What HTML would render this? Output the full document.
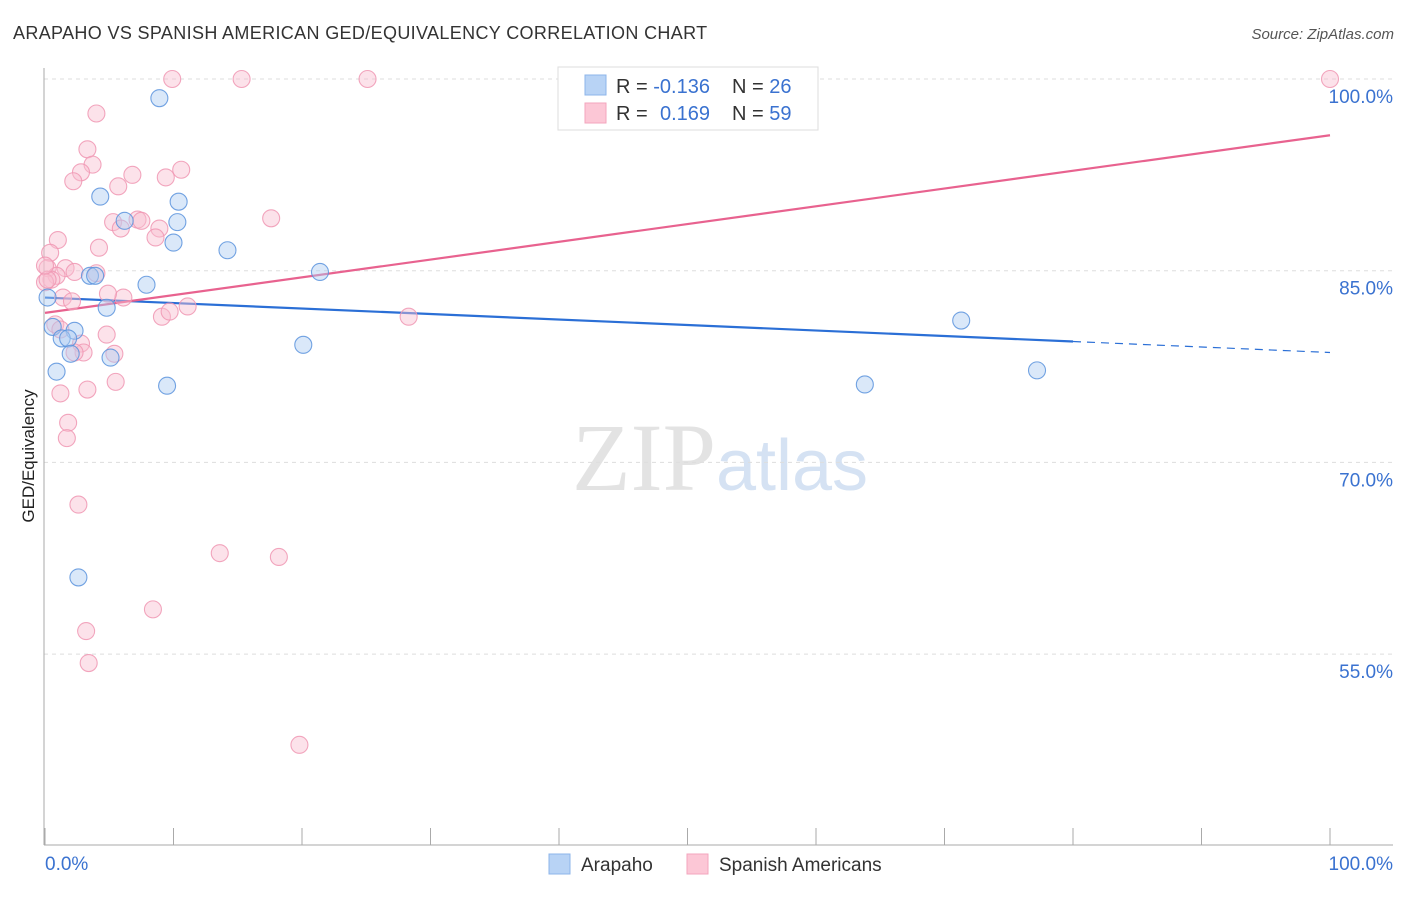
<!DOCTYPE html>
<html><head><meta charset="utf-8">
<style>
body{margin:0;background:#fff;font-family:"Liberation Sans",sans-serif;}
svg text{font-family:"Liberation Sans",sans-serif;}
</style></head>
<body>
<svg id="chart" width="1406" height="892" xmlns="http://www.w3.org/2000/svg">
<text x="13" y="39" font-size="18" fill="#333" letter-spacing="0.35">ARAPAHO VS SPANISH AMERICAN GED/EQUIVALENCY CORRELATION CHART</text>
<text x="1394" y="39" font-size="15" fill="#555" text-anchor="end" font-style="italic">Source: ZipAtlas.com</text>
<text x="720" y="490" font-size="96" text-anchor="middle"><tspan fill="#e3e3e3" font-family="Liberation Serif">ZIP</tspan><tspan fill="#d5e2f3" font-size="72">atlas</tspan></text>
<g id="grid"></g>
<g id="axes"></g>
<g id="trend"></g>
<g id="pts"></g>
<text transform="translate(34,456) rotate(-90)" font-size="17" fill="#222" text-anchor="middle">GED/Equivalency</text>
<g>
<rect x="558" y="67" width="260" height="63" fill="#fff" stroke="#ddd"/>
<rect x="585" y="75" width="21" height="20" fill="#b8d3f5" stroke="#8db4ea"/>
<rect x="585" y="103" width="21" height="20" fill="#fcc7d6" stroke="#f3a6bd"/>
<text x="616" y="93" font-size="20" fill="#333">R = <tspan fill="#3a72d0">-0.136</tspan></text>
<text x="732" y="93" font-size="20" fill="#333">N = <tspan fill="#3a72d0">26</tspan></text>
<text x="616" y="120" font-size="20" fill="#333">R = </text>
<text x="660" y="120" font-size="20" fill="#3a72d0">0.169</text>
<text x="732" y="120" font-size="20" fill="#333">N = <tspan fill="#3a72d0">59</tspan></text>
</g>
<g>
<rect x="549" y="854" width="21" height="20" fill="#b8d3f5" stroke="#8db4ea"/>
<text x="581" y="871" font-size="19" fill="#333">Arapaho</text>
<rect x="687" y="854" width="21" height="20" fill="#fcc7d6" stroke="#f3a6bd"/>
<text x="719" y="871" font-size="19" fill="#333">Spanish Americans</text>
</g>
</svg>
<script>
const yTicks=[100,85,70,55];
const yTickLabels=["100.0%","85.0%","70.0%","55.0%"];
const xTickCount=10;
const blueX=[8.9,4.3,6.2,10.4,10.3,10.0,14.2,3.5,3.9,7.9,4.8,0.2,21.4,0.6,2.3,1.3,1.8,2.0,5.1,0.9,9.5,20.1,2.6,71.3,63.8,77.2];
const blueY=[98.5,90.8,88.9,90.4,88.8,87.2,86.6,84.6,84.6,83.9,82.1,82.9,84.9,80.6,80.3,79.7,79.7,78.5,78.2,77.1,76.0,79.2,61.0,81.1,76.1,77.2];
const pinkX=[9.9,15.3,25.1,100,4.0,3.3,3.7,2.8,10.6,2.2,6.8,9.4,5.7,5.3,5.9,7.2,7.5,8.9,8.6,17.6,1.0,4.2,0.4,0.2,1.6,2.3,4.0,0.9,0.5,0.0,1.4,2.1,6.1,4.9,0.8,9.1,9.7,11.1,28.3,4.8,2.8,3.0,2.3,5.4,1.2,3.3,5.5,1.8,1.7,2.6,13.6,18.2,8.4,3.2,3.4,19.8,0.2,1.2,0.0];
const pinkY=[100,100,100,100,97.3,94.5,93.3,92.7,92.9,92.0,92.5,92.3,91.6,88.8,88.3,89.0,88.9,88.3,87.6,89.1,87.4,86.8,86.4,85.2,85.2,84.9,84.8,84.6,84.3,84.1,82.9,82.6,82.9,83.2,80.8,81.4,81.8,82.2,81.4,80.0,79.3,78.6,78.6,78.5,75.4,75.7,76.3,73.1,71.9,66.7,62.9,62.6,58.5,56.8,54.3,47.9,84.3,80.4,85.4];
const blueTrend=[82.9,78.6];
const blueSolidEnd=80;
const pinkTrend=[81.7,95.6];
const NS="http://www.w3.org/2000/svg";
const sx=v=>45+v*12.85;
const sy=v=>79+(100-v)*12.78;
function mk(tag,attrs,parent){const e=document.createElementNS(NS,tag);for(const k in attrs)e.setAttribute(k,attrs[k]);parent.appendChild(e);return e;}
const grid=document.getElementById('grid'),axes=document.getElementById('axes'),trend=document.getElementById('trend'),pts=document.getElementById('pts');
yTicks.forEach((t,i)=>{
 const l=mk('line',{x1:44,x2:1393,y1:sy(t),y2:sy(t),stroke:'#ddd','stroke-dasharray':'4,4'},grid);
 
 
 const tx=mk('text',{x:1393,y:sy(t)+24,'font-size':19,fill:'#3a72d0','text-anchor':'end'},axes);
 tx.textContent=yTickLabels[i];
 
 
});
mk('line',{x1:44,x2:44,y1:68,y2:845,stroke:'#aaa'},axes);
mk('line',{x1:44,x2:1393,y1:845,y2:845,stroke:'#aaa'},axes);
for(let i=0;i<=xTickCount;i++){
 const t=mk('line',{x1:sx(i*10),x2:sx(i*10),y1:828,y2:845,stroke:'#aaa'},axes);
 
 
}
const xl=mk('text',{x:45,y:870,'font-size':19,fill:'#3a72d0'},axes);xl.textContent='0.0%';


const xr=mk('text',{x:1393,y:870,'font-size':19,fill:'#3a72d0','text-anchor':'end'},axes);xr.textContent='100.0%';


function drawPts(X,Y,fill,stroke,name){
 X.forEach((x,i)=>{
  const c=mk('circle',{cx:sx(x),cy:sy(Y[i]),r:8.5,fill:fill,'fill-opacity':0.45,stroke:stroke,'stroke-width':1.1,'stroke-opacity':0.85},pts);
  
  
 });
}
drawPts(pinkX,pinkY,'#f9bfd0','#f096b3','spanish-american-point');
drawPts(blueX,blueY,'#aecbf2','#5b93dd','arapaho-point');
const bAt=x=>blueTrend[0]+(blueTrend[1]-blueTrend[0])*x/100;
const b1=mk('line',{x1:sx(0),y1:sy(bAt(0)),x2:sx(blueSolidEnd),y2:sy(bAt(blueSolidEnd)),stroke:'#2b6fd6','stroke-width':2.2},trend);


const b2=mk('line',{x1:sx(blueSolidEnd),y1:sy(bAt(blueSolidEnd)),x2:sx(100),y2:sy(bAt(100)),stroke:'#2b6fd6','stroke-width':1.2,'stroke-dasharray':'8,6'},trend);


const p1=mk('line',{x1:sx(0),y1:sy(pinkTrend[0]),x2:sx(100),y2:sy(pinkTrend[1]),stroke:'#e8628f','stroke-width':2.2},trend);


</script>
</body></html>
